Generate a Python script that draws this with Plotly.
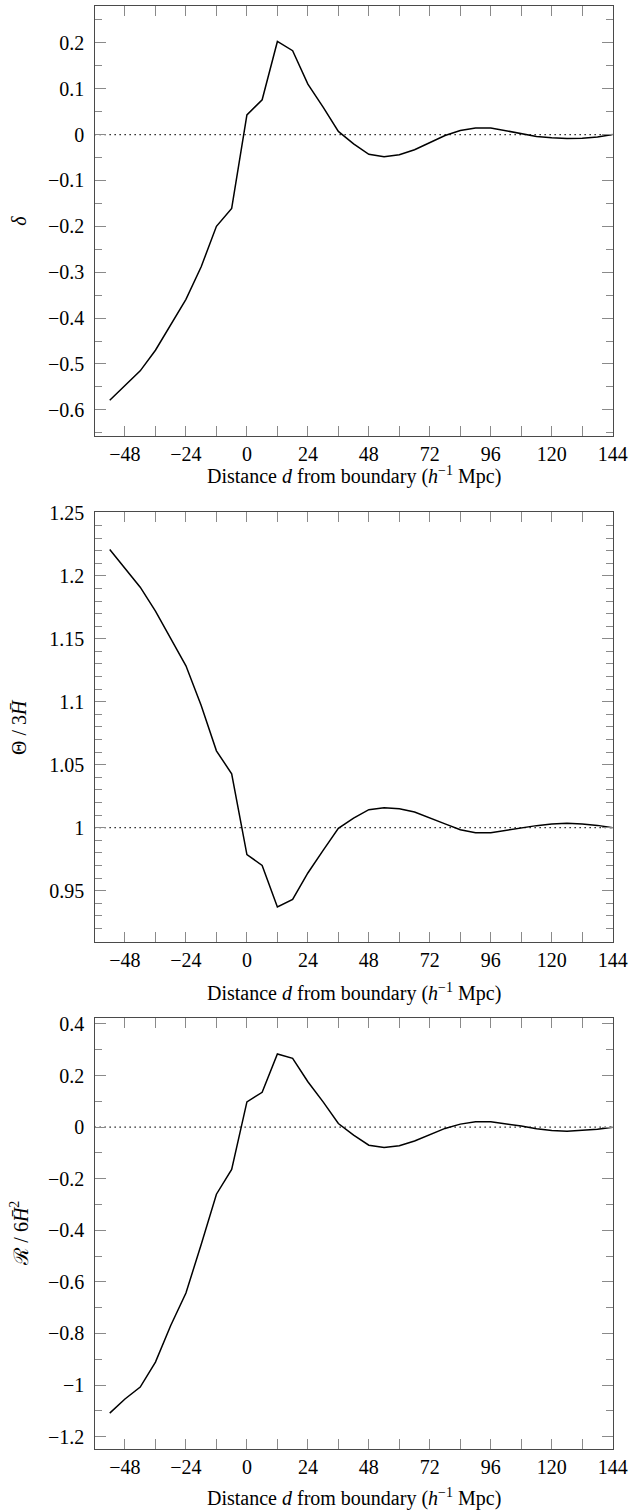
import plotly.graph_objects as go

# ---- data ----
d = [-54, -48, -42, -36, -30, -24, -18, -12, -6, 0, 6, 12, 18, 24, 30, 36, 42, 48,
     54, 60, 66, 72, 78, 84, 90, 96, 102, 108, 114, 120, 126, 132, 138, 144]

delta = [-0.579, -0.546, -0.515, -0.47, -0.415, -0.359, -0.288, -0.200, -0.161, 0.043,
         0.076, 0.203, 0.183, 0.110, 0.060, 0.007, -0.020, -0.043, -0.048, -0.044,
         -0.033, -0.017, -0.002, 0.009, 0.0146, 0.0146, 0.008, 0.0015, -0.004, -0.007,
         -0.0087, -0.008, -0.005, 0.0]

theta = [1.221, 1.206, 1.191, 1.172, 1.150, 1.1286, 1.097, 1.061, 1.0428, 0.9786,
         0.970, 0.937, 0.943, 0.964, 0.982, 0.9995, 1.0076, 1.0143, 1.0158, 1.015,
         1.0124, 1.008, 1.003, 0.9984, 0.996, 0.996, 0.9979, 1.0, 1.0016, 1.0029,
         1.0034, 1.0029, 1.0018, 1.0]

ricci = [-1.109, -1.054, -1.008, -0.911, -0.769, -0.643, -0.455, -0.260, -0.164, 0.098,
         0.135, 0.2835, 0.267, 0.176, 0.098, 0.014, -0.031, -0.070, -0.079, -0.0725,
         -0.054, -0.029, -0.005, 0.0117, 0.0206, 0.0206, 0.013, 0.004, -0.0065, -0.013,
         -0.0155, -0.013, -0.008, 0.0]

x_ticks = [-48, -24, 0, 24, 48, 72, 96, 120, 144]
x_labels = ["\u221248", "\u221224", "0", "24", "48", "72", "96", "120", "144"]
x_minor = [-36, -12, 12, 36, 60, 84, 108, 132]

y1_ticks = [-0.6, -0.5, -0.4, -0.3, -0.2, -0.1, 0.0, 0.1, 0.2]
y1_labels = ["\u22120.6", "\u22120.5", "\u22120.4", "\u22120.3", "\u22120.2", "\u22120.1",
             "0", "0.1", "0.2"]
y1_minor = [-0.65, -0.55, -0.45, -0.35, -0.25, -0.15, -0.05, 0.05, 0.15, 0.25]

y2_ticks = [0.95, 1.0, 1.05, 1.1, 1.15, 1.2, 1.25]
y2_labels = ["0.95", "1", "1.05", "1.1", "1.15", "1.2", "1.25"]
y2_minor = [0.91, 0.92, 0.93, 0.94, 0.96, 0.97, 0.98, 0.99, 1.01, 1.02, 1.03, 1.04,
            1.06, 1.07, 1.08, 1.09, 1.11, 1.12, 1.13, 1.14, 1.16, 1.17, 1.18, 1.19,
            1.21, 1.22, 1.23, 1.24]

y3_ticks = [-1.2, -1.0, -0.8, -0.6, -0.4, -0.2, 0.0, 0.2, 0.4]
y3_labels = ["\u22121.2", "\u22121", "\u22120.8", "\u22120.6", "\u22120.4", "\u22120.2",
             "0", "0.2", "0.4"]
y3_minor = [-1.1, -0.9, -0.7, -0.5, -0.3, -0.1, 0.1, 0.3]

x_range = [-60, 144]
y1_range = [-0.657, 0.281]
y2_range = [0.9094, 1.2505]
y3_range = [-1.248, 0.422]

ref_levels = [0.0, 1.0, 0.0]
series = [delta, theta, ricci]

y_titles = ["<i>\u03b4</i>",
            "\u0398 / 3<i>H\u0304</i>",
            "\u211b / 6<i>H\u0304</i><sup>2</sup>"]
x_title = "Distance <i>d</i> from boundary (<i>h</i><sup>\u22121</sup> Mpc)"

# ---- layout geometry (pixels) ----
W, H = 630, 1511
left_px, right_px = 94.5, 612.7
panels_px = [(5.7, 436.0), (512.3, 941.7), (1018.3, 1449.0)]
xtitle_px = [475, 993, 1497]

FONT = "'Liberation Serif', 'Times New Roman', Times, serif"
FS = 20
AXCOL = "#4a4a4a"
TICKCOL = "#8a8a8a"

fig = go.Figure()

yranges = [y1_range, y2_range, y3_range]
yticks = [(y1_ticks, y1_labels, y1_minor), (y2_ticks, y2_labels, y2_minor),
          (y3_ticks, y3_labels, y3_minor)]

for i in range(3):
    xa = "x" if i == 0 else f"x{i+1}"
    ya = "y" if i == 0 else f"y{i+1}"
    fig.add_trace(go.Scatter(x=x_range, y=[ref_levels[i]] * 2, mode="lines",
                             line=dict(color="black", width=1.3, dash="1.3px,3.7px"),
                             xaxis=xa, yaxis=ya, showlegend=False, hoverinfo="skip"))
    fig.add_trace(go.Scatter(x=d, y=series[i], mode="lines",
                             line=dict(color="black", width=1.5),
                             xaxis=xa, yaxis=ya, showlegend=False))

    top, bot = panels_px[i]
    ydom = [1 - bot / H, 1 - top / H]
    xdom = [left_px / W, right_px / W]
    xkey = "xaxis" if i == 0 else f"xaxis{i+1}"
    ykey = "yaxis" if i == 0 else f"yaxis{i+1}"
    tv, tt, mv = yticks[i]
    fig.update_layout(**{
        xkey: dict(domain=xdom, range=x_range, anchor=ya,
                   tickvals=x_ticks, ticktext=x_labels, ticks="inside", ticklen=10,
                   tickwidth=1, tickcolor=TICKCOL, showline=True, linecolor=AXCOL,
                   linewidth=1.3, mirror="ticks", showgrid=False, zeroline=False,
                   tickfont=dict(family=FONT, size=FS, color="black"),
                   ticklabelstandoff=0, automargin=False,
                   minor=dict(tickvals=x_minor, ticks="inside", ticklen=10, tickwidth=1,
                              tickcolor=TICKCOL, showgrid=False)),
        ykey: dict(domain=ydom, range=yranges[i], anchor=xa,
                   tickvals=tv, ticktext=tt, ticks="inside", ticklen=11,
                   tickwidth=1, tickcolor=TICKCOL, showline=True, linecolor=AXCOL,
                   linewidth=1.3, mirror="ticks", showgrid=False, zeroline=False,
                   tickfont=dict(family=FONT, size=FS, color="black"),
                   ticklabelstandoff=5, automargin=False,
                   minor=dict(tickvals=mv, ticks="inside", ticklen=7, tickwidth=1,
                              tickcolor=TICKCOL, showgrid=False)),
    })
    fig.add_annotation(text=x_title, xref="paper", yref="paper",
                       x=(left_px + right_px) / 2 / W, y=1 - xtitle_px[i] / H,
                       xanchor="center", yanchor="middle", showarrow=False,
                       font=dict(family=FONT, size=FS, color="black"))
    fig.add_annotation(text=y_titles[i], xref="paper", yref="paper",
                       x=19 / W, y=1 - (top + bot) / 2 / H, textangle=-90,
                       xanchor="center", yanchor="middle", showarrow=False,
                       font=dict(family=FONT, size=FS, color="black"))

fig.update_layout(width=W, height=H, margin=dict(l=0, r=0, t=0, b=0),
                  paper_bgcolor="white", plot_bgcolor="white", showlegend=False)

fig.write_html("out.html", config={"displayModeBar": False},
               post_script="document.body.style.margin='0';document.body.style.padding='0';")
